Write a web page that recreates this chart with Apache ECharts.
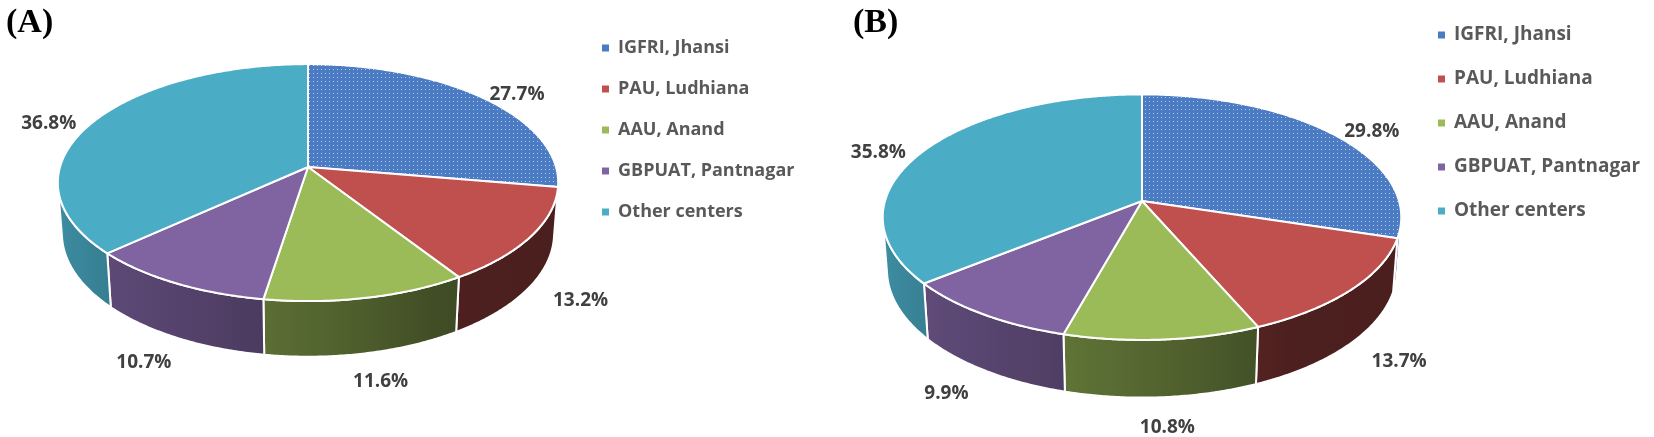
<!DOCTYPE html>
<html>
<head>
<meta charset="utf-8">
<script src="https://cdn.jsdelivr.net/npm/echarts@6/dist/echarts.min.js"></script>
<style>
html, body { margin: 0; padding: 0; background: #fff; }
#main { width: 1654px; height: 437px; }
</style>
</head>
<body>
<div id="main"></div>
<script>
// share of each centre (%), panel A and panel B
var categories = ['IGFRI, Jhansi', 'PAU, Ludhiana', 'AAU, Anand', 'GBPUAT, Pantnagar', 'Other centers'];
var sharesA = [27.7, 13.2, 11.6, 10.7, 36.8];
var sharesB = [29.8, 13.7, 10.8, 9.9, 35.8];
var panelTitles = ['(A)', '(B)'];
var colors = ['#4b7bc3', '#c0504d', '#9bbb59', '#8064a2', '#4bacc6'];

var chart = echarts.init(document.getElementById('main'));

// 3D look of the Excel pies: tilt, camera distance, thickness
var TILT = 28 * Math.PI / 180;
var K = 7.6;
var DEPTH = 0.235;
var pies = [
    {shares: sharesA, cx: 308, cy: 167, scale: 248, font: 19},
    {shares: sharesB, cx: 1142, cy: 201, scale: 257, font: 19}
];

var cosT = Math.cos(TILT), sinT = Math.sin(TILT);
var camW = K * cosT * cosT;
var visFrom = Math.acos(-1 / camW);
var visTo = 2 * Math.PI - visFrom;

function project(p, r, theta, h) {
    var u = r * Math.sin(theta), w = -r * Math.cos(theta);
    var z0 = K * cosT, f = p.scale * z0;
    var Y = w * sinT - h * cosT;
    var Z = z0 - w * cosT - h * sinT;
    return [p.cx + f * u / Z, p.cy + f * Y / Z];
}

// wall darkness against angle (light comes from the left)
var shadeTable = [[95, 0.38], [150, 0.40], [180, 0.55], [205, 0.66], [240, 0.78], [265, 0.85]];
function shadeFactor(deg) {
    if (deg <= shadeTable[0][0]) return shadeTable[0][1];
    for (var i = 1; i < shadeTable.length; i++) {
        if (deg <= shadeTable[i][0]) {
            var a = shadeTable[i - 1], b = shadeTable[i];
            return a[1] + (b[1] - a[1]) * (deg - a[0]) / (b[0] - a[0]);
        }
    }
    return shadeTable[shadeTable.length - 1][1];
}
function shade(hex, k) {
    var n = parseInt(hex.slice(1), 16);
    var r = Math.round(((n >> 16) & 255) * k), g = Math.round(((n >> 8) & 255) * k), b = Math.round((n & 255) * k);
    return 'rgb(' + r + ',' + g + ',' + b + ')';
}

// dotted fill of the first slice
var tile = document.createElement('canvas');
tile.width = 4; tile.height = 4;
var tctx = tile.getContext('2d');
tctx.fillStyle = colors[0];
tctx.fillRect(0, 0, 4, 4);
tctx.fillStyle = 'rgba(205,222,250,0.8)';
tctx.fillRect(1, 1, 1, 1);
var dotPattern = {image: tile, repeat: 'repeat'};

function makeRender(p, idx) {
    return function (params, api) {
        var a0 = api.value(0) / 100 * 2 * Math.PI;
        var a1 = api.value(1) / 100 * 2 * Math.PI;
        var val = api.value(2);
        var step = Math.PI / 360;
        var children = [];

        // side wall (front part only)
        var b0 = Math.max(a0, visFrom), b1 = Math.min(a1, visTo);
        if (b1 > b0) {
            var topPts = [], botPts = [];
            for (var t = b0; t < b1; t += step) {
                topPts.push(project(p, 1, t, 0));
                botPts.push(project(p, 1, t, -DEPTH));
            }
            topPts.push(project(p, 1, b1, 0));
            botPts.push(project(p, 1, b1, -DEPTH));
            var xs = topPts.map(function (q) { return q[0]; });
            var xMin = Math.min.apply(null, xs), xMax = Math.max.apply(null, xs);
            var stops = [];
            for (var s = 0; s <= 8; s++) {
                var th = b0 + (b1 - b0) * s / 8;
                var px = project(p, 1, th, 0)[0];
                stops.push({
                    offset: xMax > xMin ? (px - xMin) / (xMax - xMin) : 0,
                    color: shade(colors[idx], shadeFactor(th * 180 / Math.PI))
                });
            }
            stops.sort(function (m, n) { return m.offset - n.offset; });
            children.push({
                type: 'polygon',
                z2: 1,
                shape: {points: topPts.concat(botPts.reverse())},
                style: {
                    fill: {type: 'linear', x: xMin, y: 0, x2: xMax, y2: 0, global: true, colorStops: stops},
                    stroke: '#fff', lineWidth: 2, lineJoin: 'round'
                }
            });
        }

        // top face
        var pts = [project(p, 0, 0, 0)];
        for (var t2 = a0; t2 < a1; t2 += step) pts.push(project(p, 1, t2, 0));
        pts.push(project(p, 1, a1, 0));
        children.push({
            type: 'polygon',
            z2: 5,
            shape: {points: pts},
            style: {fill: idx === 0 ? dotPattern : colors[idx], stroke: '#fff', lineWidth: 2, lineJoin: 'round'}
        });

        // percentage label, outside the slice
        var mid = (a0 + a1) / 2;
        var wf = -Math.cos(mid);
        var h = -0.05;
        if (wf > 0) h -= (DEPTH * 0.88 - 0.05) * Math.min(1, wf / 0.5);
        var lp = project(p, 1.22, mid, h);
        children.push({
            type: 'text',
            z2: 10,
            x: lp[0], y: lp[1],
            style: {
                text: val.toFixed(1) + '%',
                fill: '#404040',
                fontFamily: 'Open Sans',
                fontWeight: 'bold',
                fontSize: p.font,
                align: 'center',
                verticalAlign: 'middle'
            }
        });
        return {type: 'group', children: children};
    };
}

var series = [];
pies.forEach(function (p) {
    var acc = 0;
    p.shares.forEach(function (v, i) {
        series.push({
            type: 'custom',
            name: categories[i],
            coordinateSystem: 'none',
            silent: true,
            itemStyle: {color: colors[i]},
            data: [[acc, acc + v, v]],
            renderItem: makeRender(p, i)
        });
        acc += v;
    });
});

var option = {
    animation: false,
    title: [{
        text: panelTitles[0], left: 1, top: 1,
        textStyle: {fontFamily: 'Liberation Serif', fontWeight: 'bold', fontSize: 34, color: '#000'}
    }, {
        text: panelTitles[1], left: 848, top: 1,
        textStyle: {fontFamily: 'Liberation Serif', fontWeight: 'bold', fontSize: 34, color: '#000'}
    }],
    legend: [{
        data: categories,
        orient: 'vertical',
        left: 597, top: 32,
        icon: 'rect', itemWidth: 7, itemHeight: 7, itemGap: 19,
        selectedMode: false,
        textStyle: {fontFamily: 'Open Sans', fontWeight: 'bold', fontSize: 18, lineHeight: 22, color: '#595959', padding: [0, 0, 0, 4]}
    }, {
        data: categories,
        orient: 'vertical',
        left: 1433, top: 18,
        icon: 'rect', itemWidth: 7, itemHeight: 7, itemGap: 20,
        selectedMode: false,
        textStyle: {fontFamily: 'Open Sans', fontWeight: 'bold', fontSize: 19, lineHeight: 24, color: '#595959', padding: [0, 0, 0, 4]}
    }],
    series: series
};
chart.setOption(option);
</script>
</body>
</html>
